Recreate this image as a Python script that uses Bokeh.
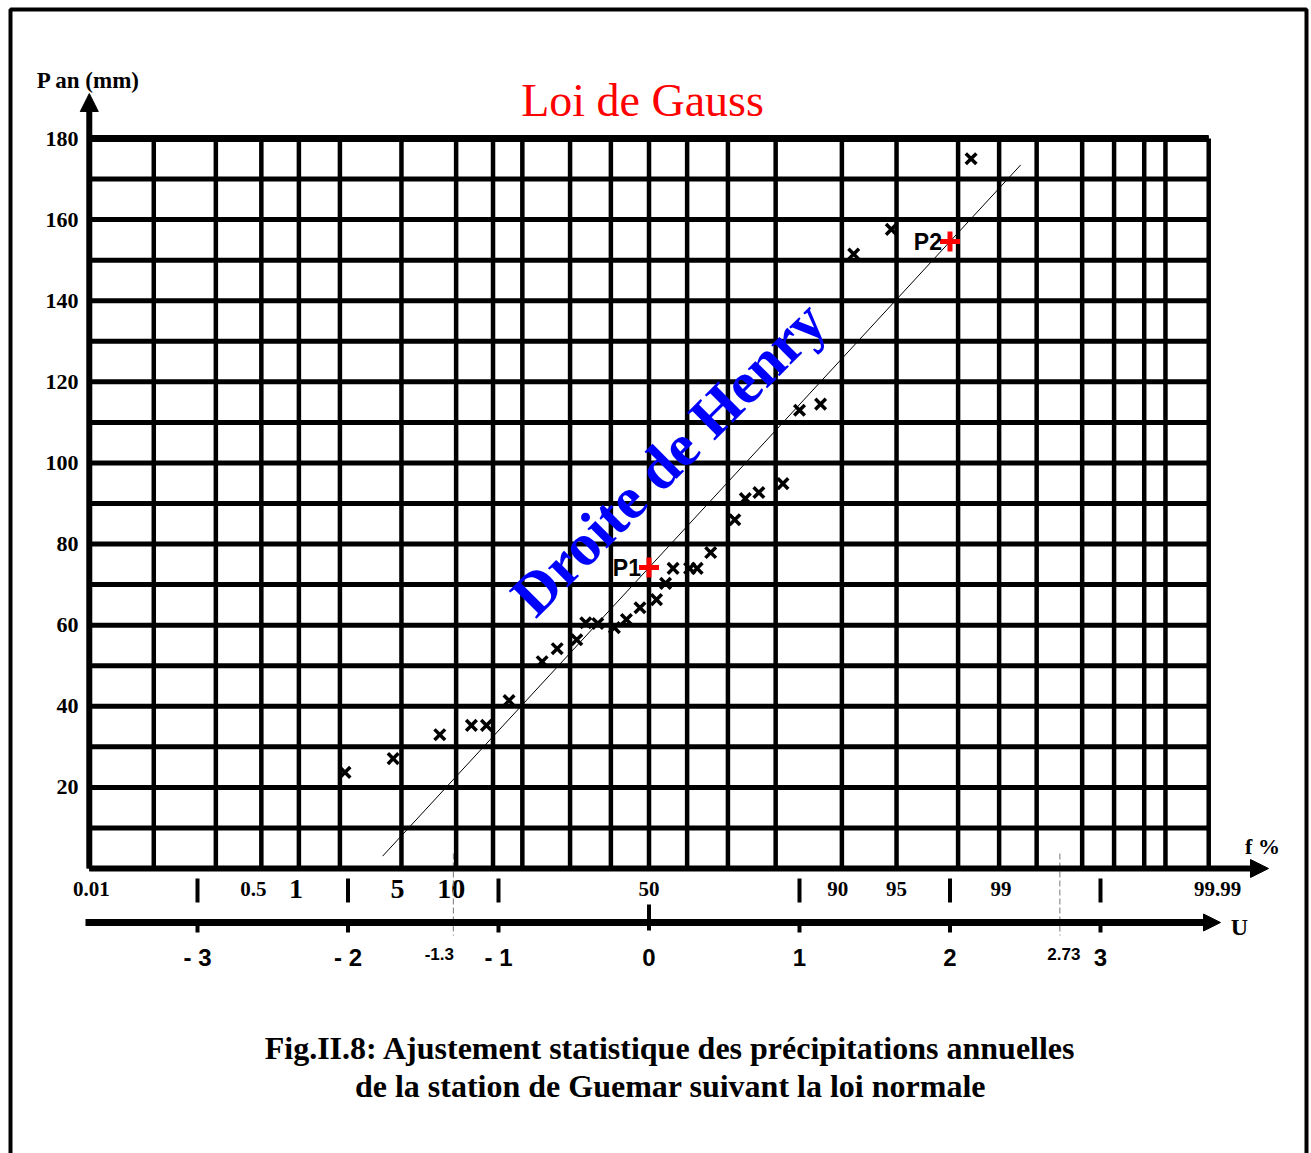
from statistics import NormalDist
from bokeh.plotting import figure
from bokeh.models import Range1d, Arrow, NormalHead
from bokeh.core.properties import value
from bokeh.embed import file_html
from bokeh.resources import INLINE

# ---------------- data ----------------
# observed annual precipitation (mm) vs reduced Gauss variable U
u_obs = [-2.02, -1.70, -1.39, -1.18, -1.08, -0.93, -0.71, -0.61, -0.48, -0.42,
         -0.34, -0.23, -0.15, -0.06, 0.05, 0.11, 0.16, 0.27, 0.32, 0.41,
         0.57, 0.64, 0.73, 0.89, 1.00, 1.14, 1.36, 1.61, 2.14]
p_obs = [23.7, 27.1, 33.0, 35.3, 35.3, 41.4, 51.0, 54.2, 56.4, 60.6,
         60.4, 59.4, 61.4, 64.3, 66.3, 70.3, 74.0, 74.0, 74.0, 77.9,
         86.0, 91.2, 92.7, 94.9, 113.0, 114.5, 151.5, 157.6, 175.0]

# Henry line defined by P1 and P2, drawn between these U values
p1_u, p1_p = 0.0, 74.2
p2_u, p2_p = 2.0, 154.6
henry_u_ends = [-1.77, 2.47]

p_tick_vals = [20, 40, 60, 80, 100, 120, 140, 160, 180]
p_grid_vals = [0, 10, 20, 30, 40, 50, 60, 70, 80, 90, 100, 110, 120, 130, 140, 150, 160, 170, 180]
f_grid_pct = [0.01, 0.05, 0.2, 0.5, 1, 2, 5, 10, 15, 20, 30, 40, 50, 60, 70, 80,
              90, 95, 98, 99, 99.5, 99.8, 99.9, 99.95, 99.97, 99.99]
f_small_pct = [0.01, 0.5, 50, 90, 95, 99, 99.99]
f_small_txt = ["0.01", "0.5", "50", "90", "95", "99", "99.99"]
f_big_pct = [1, 5, 10]
f_big_txt = ["1", "5", "10"]
u_tick_vals = [-3, -2, -1, 0, 1, 2, 3]
u_tick_txt = ["- 3", "- 2", "- 1", "0", "1", "2", "3"]
u_mark_vals = [-1.3, 2.73]
u_mark_txt = ["-1.3", "2.73"]

title_txt = "Loi de Gauss"
henry_txt = "Droite de Henry"
caption1 = "Fig.II.8: Ajustement statistique des précipitations annuelles"
caption2 = "de la station de Guemar suivant la loi normale"

# ---------------- layout helpers ----------------
W, H = 1311, 1153
X0_PX, PX_PER_U = 648.5, 150.5
Y0_PX, PX_PER_MM = 868.0, 730.0 / 180.0


def ux(px):
    return (px - X0_PX) / PX_PER_U


def my(py):
    return (Y0_PX - py) / PX_PER_MM


nd = NormalDist()


def q(pct):
    return nd.inv_cdf(pct / 100.0)


SERIF = value("Liberation Serif")
SANS = value("Liberation Sans")

p = figure(width=W, height=H, x_range=Range1d(ux(0), ux(W)), y_range=Range1d(my(H), my(0)),
           x_axis_location=None, y_axis_location=None, toolbar_location=None,
           output_backend="svg", min_border=0, outline_line_color=None,
           background_fill_color="white", border_fill_color="white")
p.grid.grid_line_color = None

# outer frame
p.line(x=[ux(10), ux(10), ux(1306), ux(1306)], y=[my(1170), my(9), my(9), my(1170)],
       line_width=4, line_color="black")

u_left, u_right = q(f_grid_pct[0]), q(f_grid_pct[-1])
p_top = p_grid_vals[-1]

# vertical grid (probability lines)
gx = [q(f) for f in f_grid_pct]
p.segment(x0=gx, y0=[0] * len(gx), x1=gx, y1=[p_top] * len(gx), line_width=4.5, line_color="black")
# horizontal grid
p.segment(x0=[u_left] * len(p_grid_vals), y0=p_grid_vals, x1=[u_right] * len(p_grid_vals),
          y1=p_grid_vals, line_width=5, line_color="black")
p.segment(x0=[u_left], y0=[p_top], x1=[u_right], y1=[p_top], line_width=7, line_color="black")

# axes with arrows
p.add_layout(Arrow(x_start=u_left, y_start=0, x_end=u_left, y_end=my(93), line_width=6,
                   line_color="black",
                   end=NormalHead(size=18, fill_color="black", line_color="black")))
p.add_layout(Arrow(x_start=u_left, y_start=0, x_end=ux(1268), y_end=0, line_width=6,
                   line_color="black",
                   end=NormalHead(size=18, fill_color="black", line_color="black")))
u_axis_p = my(922)
p.add_layout(Arrow(x_start=ux(85), y_start=u_axis_p, x_end=ux(1220), y_end=u_axis_p, line_width=7,
                   line_color="black",
                   end=NormalHead(size=17, fill_color="black", line_color="black")))

# y labels
p.text(x=[ux(78)] * len(p_tick_vals), y=p_tick_vals, text=[str(v) for v in p_tick_vals],
       text_font=SERIF, text_font_style="bold", text_font_size="22px",
       text_align="right", text_baseline="middle", text_color="black")
p.text(x=[ux(88)], y=[my(80)], text=["P an (mm)"], text_font=SERIF, text_font_style="bold",
       text_font_size="23px", text_align="center", text_baseline="middle")
p.text(x=[ux(1262)], y=[my(846)], text=["f %"], text_font=SERIF, text_font_style="bold",
       text_font_size="22px", text_align="center", text_baseline="middle")
p.text(x=[ux(1239)], y=[my(926)], text=["U"], text_font=SERIF, text_font_style="bold",
       text_font_size="24px", text_align="center", text_baseline="middle")

# probability labels row
row_p = my(888)
p.text(x=[q(f) for f in f_small_pct], y=[row_p] * len(f_small_pct), text=f_small_txt,
       text_font=SERIF, text_font_style="bold", text_font_size="21px",
       text_align="center", text_baseline="middle", x_offset=[2, -8, 0, -4, 0, 2, 9])
p.text(x=[q(f) for f in f_big_pct], y=[row_p] * len(f_big_pct), text=f_big_txt,
       text_font=SERIF, text_font_style="bold", text_font_size="28px",
       text_align="center", text_baseline="middle", x_offset=[-3, -4, -5])

# tick bars in probability row at integer U (except 0)
bar_u = [u for u in u_tick_vals if u != 0]
p.segment(x0=bar_u, y0=[my(878)] * len(bar_u), x1=bar_u, y1=[my(902)] * len(bar_u),
          line_width=4, line_color="black")
# ticks on U axis
p.segment(x0=bar_u, y0=[u_axis_p] * len(bar_u), x1=bar_u, y1=[my(932)] * len(bar_u),
          line_width=4, line_color="black")
p.segment(x0=[0], y0=[my(904)], x1=[0], y1=[my(930)], line_width=4, line_color="black")
# special dashed markers
p.segment(x0=u_mark_vals, y0=[my(853)] * 2, x1=u_mark_vals, y1=[my(935)] * 2,
          line_width=1, line_color="#777777", line_dash="6 3")

# U labels
p.text(x=u_tick_vals, y=[my(957)] * len(u_tick_vals), text=u_tick_txt,
       text_font=SANS, text_font_style="bold", text_font_size="24px",
       text_align="center", text_baseline="middle")
p.text(x=u_mark_vals, y=[my(953)] * 2, text=u_mark_txt,
       text_font=SANS, text_font_style="bold", text_font_size="17px",
       text_align="center", text_baseline="middle", x_offset=[-14, 4])

# Henry line
slope = (p2_p - p1_p) / (p2_u - p1_u)
p.line(x=henry_u_ends, y=[p1_p + slope * (u - p1_u) for u in henry_u_ends],
       line_width=1, line_color="black")

# observations
p.scatter(x=u_obs, y=p_obs, marker="x", size=15, line_width=3.5, line_color="black")

# P1, P2
p.scatter(x=[p1_u, p2_u], y=[p1_p, p2_p], marker="cross", size=20, line_width=5, line_color="red")
p.text(x=[p1_u, p2_u], y=[p1_p, p2_p], text=["P1", "P2"], x_offset=-8,
       text_font=SANS, text_font_style="bold", text_font_size="23px",
       text_align="right", text_baseline="middle")

# title
p.text(x=[ux(642)], y=[my(100)], text=[title_txt], text_font=SERIF,
       text_font_size="46px", text_color="#ff0000", text_align="center", text_baseline="middle")

# Droite de Henry
p.text(x=[ux(668)], y=[my(458)], text=[henry_txt], text_font=SERIF, text_font_style="bold",
       text_font_size="60px", text_color="#0000ff", angle=0.785,
       text_align="center", text_baseline="middle")

# caption
p.text(x=[ux(670), ux(670)], y=[my(1047), my(1085)], text=[caption1, caption2],
       text_font=SERIF, text_font_style="bold", text_font_size="32px",
       text_align="center", text_baseline="middle")

open("out.html", "w").write(file_html(p, INLINE))
